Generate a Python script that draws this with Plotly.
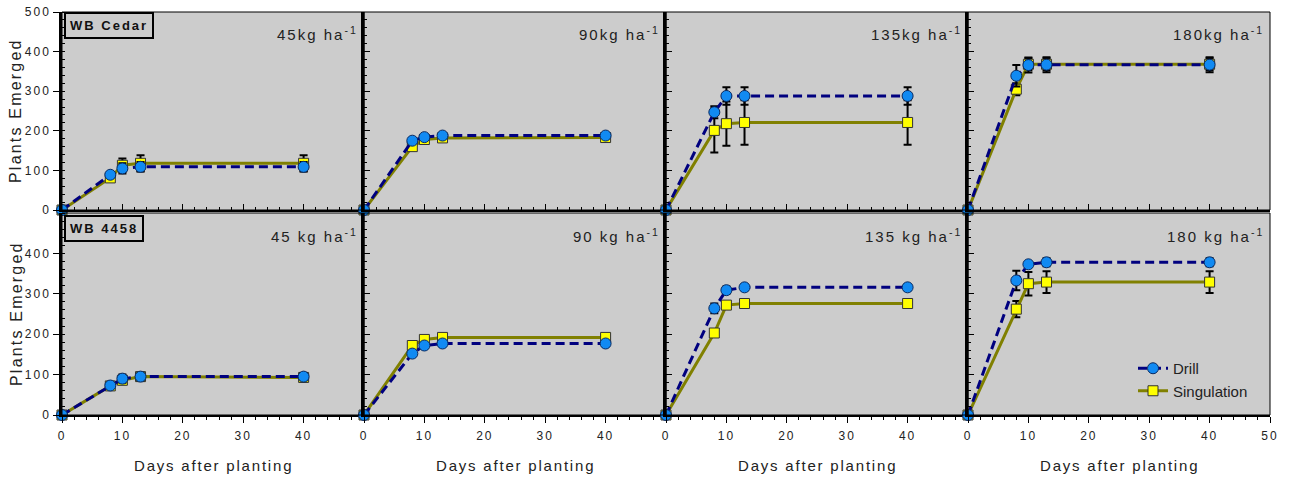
import plotly.graph_objects as go

# ---------------- data ----------------
days = [0, 8, 10, 13, 40]
rate_labels_top = ["45kg ha<sup>-1</sup>", "90kg ha<sup>-1</sup>", "135kg ha<sup>-1</sup>", "180kg ha<sup>-1</sup>"]
rate_labels_bottom = ["45 kg ha<sup>-1</sup>", "90 kg ha<sup>-1</sup>", "135 kg ha<sup>-1</sup>", "180 kg ha<sup>-1</sup>"]
cultivars = ["WB Cedar", "WB 4458"]
y_ticks_top = [0, 100, 200, 300, 400, 500]
y_ticks_bottom = [0, 100, 200, 300, 400]
x_ticks = [0, 10, 20, 30, 40]
x_ticks_last = [0, 10, 20, 30, 40, 50]

cedar_drill = [
    [0, 89, 105, 109, 109],
    [0, 175, 184, 188, 188],
    [0, 247, 288, 288, 288],
    [0, 339, 366, 367, 367],
]
cedar_drill_err = [
    [0, 6, 13, 12, 12],
    [0, 4, 4, 4, 4],
    [0, 15, 22, 22, 22],
    [0, 27, 19, 19, 19],
]
cedar_sing = [
    [0, 81, 113, 118, 118],
    [0, 160, 178, 182, 183],
    [0, 201, 218, 221, 221],
    [0, 305, 368, 368, 368],
]
cedar_sing_err = [
    [0, 6, 17, 20, 20],
    [0, 4, 4, 4, 4],
    [0, 56, 56, 56, 56],
    [0, 15, 15, 15, 15],
]
wb4458_drill = [
    [0, 73, 90, 95, 95],
    [0, 152, 172, 177, 177],
    [0, 264, 309, 316, 316],
    [0, 333, 373, 378, 378],
]
wb4458_drill_err = [
    [0, 6, 10, 9, 9],
    [0, 3, 3, 3, 3],
    [0, 12, 9, 7, 7],
    [0, 24, 4, 10, 10],
]
wb4458_sing = [
    [0, 72, 86, 95, 93],
    [0, 172, 187, 192, 192],
    [0, 203, 272, 276, 276],
    [0, 262, 325, 329, 329],
]
wb4458_sing_err = [
    [0, 6, 10, 10, 10],
    [0, 3, 3, 3, 3],
    [0, 10, 4, 3, 3],
    [0, 20, 29, 27, 27],
]

# ---------------- layout geometry ----------------
W, H = 1293, 482
col_left = [62, 364, 666, 968]
col_w = 302
row_top = [12, 213]
row_bot = [210, 415]

FONT = "Liberation Sans, Arial, sans-serif"
DRILL_LINE = "#00007f"
DRILL_FILL = "#118af2"
SING_LINE = "#808000"
SING_FILL = "#ffff00"


def sp(text, px):
    return f'<span style="letter-spacing:{px}px">{text}</span>'


fig = go.Figure()
layout = dict(
    width=W, height=H,
    margin=dict(l=0, r=0, t=0, b=0, autoexpand=False),
    paper_bgcolor="white",
    plot_bgcolor="#cccccc",
    font=dict(family=FONT, color="#222222"),
    showlegend=True,
    legend=dict(
        x=1133 / W, y=1 - 352 / H, xanchor="left", yanchor="top",
        bgcolor="rgba(0,0,0,0)", font=dict(size=15, family=FONT, color="#222"),
        itemwidth=30, tracegroupgap=0,
    ),
)
shapes = []
annotations = []

data_rows = [
    (cedar_drill, cedar_drill_err, cedar_sing, cedar_sing_err),
    (wb4458_drill, wb4458_drill_err, wb4458_sing, wb4458_sing_err),
]

for r in range(2):
    d_vals, d_err, s_vals, s_err = data_rows[r]
    for c in range(4):
        k = r * 4 + c + 1
        xa = "x" if k == 1 else f"x{k}"
        ya = "y" if k == 1 else f"y{k}"
        first = (k == 1)
        fig.add_trace(go.Scatter(
            x=days, y=s_vals[c], xaxis=xa, yaxis=ya,
            mode="lines+markers", name="Singulation", legendgroup="s",
            showlegend=first, legendrank=2, cliponaxis=False,
            line=dict(color=SING_LINE, width=3),
            marker=dict(symbol="square", size=10, color=SING_FILL,
                        line=dict(color="#333333", width=1)),
            error_y=dict(type="data", array=s_err[c], color="black",
                         thickness=2, width=4),
        ))
        fig.add_trace(go.Scatter(
            x=days, y=d_vals[c], xaxis=xa, yaxis=ya,
            mode="lines+markers", name="Drill", legendgroup="d",
            showlegend=first, legendrank=1, cliponaxis=False,
            line=dict(color=DRILL_LINE, width=3, dash="9px,5px"),
            marker=dict(symbol="circle", size=11, color=DRILL_FILL,
                        line=dict(color="#0a2a60", width=1)),
            error_y=dict(type="data", array=d_err[c], color="black",
                         thickness=2, width=4),
        ))

        x0 = col_left[c] / W
        x1 = (col_left[c] + col_w) / W
        y0 = 1 - row_bot[r] / H
        y1 = 1 - row_top[r] / H
        xkey = "xaxis" if k == 1 else f"xaxis{k}"
        ykey = "yaxis" if k == 1 else f"yaxis{k}"
        last_col = (c == 3)
        xt = x_ticks_last if last_col else x_ticks
        yt = y_ticks_top if r == 0 else y_ticks_bottom
        layout[xkey] = dict(
            domain=[x0, x1], anchor=ya, range=[0, 50], automargin=False,
            showgrid=False, zeroline=False,
            showline=True, linecolor="black", linewidth=2,
            ticks="inside" if r == 0 else "outside", ticklen=6, tickwidth=1,
            tickcolor="black",
            tickvals=xt, ticktext=[sp(str(v), 2) for v in xt],
            showticklabels=(r == 1), ticklabelstandoff=3,
            tickfont=dict(size=12, family=FONT, color="#222"),
            minor=dict(dtick=2, tick0=0, ticklen=3, tickcolor="black",
                       ticks="inside" if r == 0 else "outside"),
        )
        layout[ykey] = dict(
            domain=[y0, y1], anchor=xa, range=[0, 500], automargin=False,
            showgrid=False, zeroline=False,
            showline=True, linecolor="black", linewidth=2.5,
            ticks="outside" if c == 0 else "inside", ticklen=6, tickwidth=1,
            tickcolor="black",
            tickvals=yt, ticktext=[sp(str(v), 2) for v in yt],
            showticklabels=(c == 0),
            tickfont=dict(size=12, family=FONT, color="#222"),
            minor=dict(dtick=20, tick0=0, ticklen=3, tickcolor="black",
                       ticks="inside"),
        )
        # thin frame on top/right
        shapes.append(dict(type="rect", xref=f"{xa} domain", yref=f"{ya} domain",
                           x0=0, x1=1, y0=0, y1=1,
                           line=dict(color="black", width=1), layer="above"))
        # rate label
        label = rate_labels_top[c] if r == 0 else rate_labels_bottom[c]
        annotations.append(dict(
            text=sp(label, 2), xref="paper", yref="paper",
            x=(col_left[c] + col_w - 4) / W,
            y=1 - (row_top[r] + 22) / H,
            xanchor="right", yanchor="middle", showarrow=False,
            font=dict(size=15, family=FONT, color="#222"),
        ))

# cultivar boxes
box_specs = [(64, 12, 153, 38), (64, 215, 142, 242)]
for r in range(2):
    bx0, by0, bx1, by1 = box_specs[r]
    annotations.append(dict(
        text="<b>" + sp(cultivars[r], 2) + "</b>", xref="paper", yref="paper",
        x=bx0 / W, y=1 - by0 / H, xanchor="left", yanchor="top",
        showarrow=False, bgcolor="#cccccc", bordercolor="black", borderwidth=2,
        borderpad=4, font=dict(size=13, family=FONT, color="#111"),
    ))

# axis titles
for c in range(4):
    annotations.append(dict(
        text=sp("Days after planting", 1.8), xref="paper", yref="paper",
        x=(col_left[c] + col_w / 2) / W, y=1 - 465 / H,
        xanchor="center", yanchor="middle", showarrow=False,
        font=dict(size=15, family=FONT, color="#222"),
    ))
for r in range(2):
    annotations.append(dict(
        text=sp("Plants Emerged", 2.2), xref="paper", yref="paper",
        x=16 / W, y=1 - ((row_top[r] + row_bot[r]) / 2) / H,
        xanchor="center", yanchor="middle", textangle=-90, showarrow=False,
        font=dict(size=16, family=FONT, color="#222"),
    ))

layout["shapes"] = shapes
layout["annotations"] = annotations
fig.update_layout(**layout)
fig.write_html("out.html")
